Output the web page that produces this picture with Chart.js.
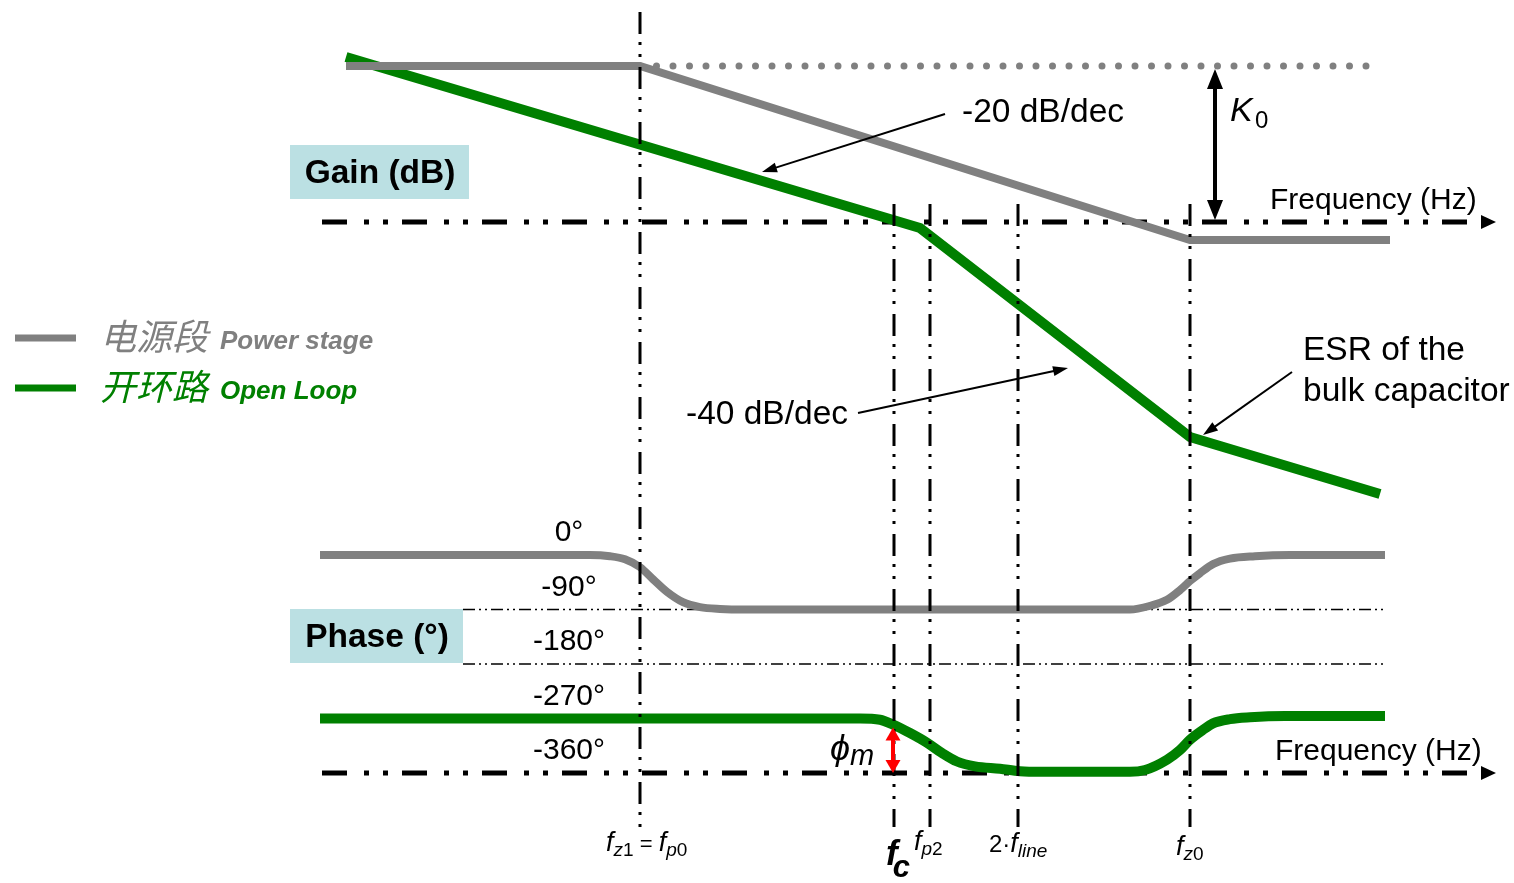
<!DOCTYPE html>
<html>
<head>
<meta charset="utf-8">
<script src="https://cdn.jsdelivr.net/npm/chart.js@4.4.1/dist/chart.umd.min.js"></script>
<style>
  html, body { margin: 0; padding: 0; background: #fff; }
  #wrap { width: 1514px; height: 883px; position: relative; }
</style>
</head>
<body>
<div id="wrap"><canvas id="bode"></canvas></div>
<script>
// ---- Data (x = position along the log-frequency direction) ----
// Gain curves, in dB relative to the 0 dB frequency axis
const powerGainX  = [346, 640, 1190, 1390];
const powerGainDb = [39, 39, -4.5, -4.5];
const loopGainX   = [346, 920, 1190, 1380];
const loopGainDb  = [41.25, -1.5, -53.75, -68];
// Dotted reference level (DC gain K0)
const k0X  = [640, 1370];
const k0Db = [39, 39];

// Phase curves, in degrees
const powerPhaseX   = [320, 590, 610, 625, 640, 653, 667, 683, 700, 720, 745, 1130, 1150, 1167, 1180, 1190, 1200, 1213, 1230, 1255, 1290, 1385];
const powerPhaseDeg = [0, 0, -2, -7, -20, -40, -61, -78, -86, -89, -90, -90, -84, -74, -58, -43, -30, -15, -6, -2, 0, 0];
const loopPhaseX    = [320, 860, 880, 893, 910, 927, 942, 957, 975, 1000, 1020, 1040, 1130, 1145, 1167, 1180, 1190, 1202, 1213, 1230, 1250, 1285, 1385];
const loopPhaseDeg  = [-270, -270, -272, -280, -294, -310, -327, -341, -349, -353, -357, -358, -358, -355, -338, -322, -305, -290, -278, -271, -268, -266, -266];

// Phase tick labels and dashed grid levels
const phaseTicks      = [0, -90, -180, -270, -360];
const phaseTickLabels = ['0°', '-90°', '-180°', '-270°', '-360°'];
const phaseGrid       = [-90, -180];

// Corner / crossover frequencies (vertical guide lines)
const markerX     = [640, 894, 930, 1018, 1190];
const markerTopDb = [52.5, 4.5, 4.5, 4.5, 4.5];
const markerBottomDeg = -449;
// Label of each marker: [text, style]
const markerLabels = [
  [['f', 'f'], ['z', 'si'], ['1', 's'], [' = ', 'eq'], ['f', 'f'], ['p', 'si'], ['0', 's']],
  [['f', 'F'], ['c', 'Fs']],
  [['f', 'f'], ['p', 'si'], ['2', 's']],
  [['2', 'n'], ['·', 'n'], ['f', 'f'], ['line', 'si']],
  [['f', 'f'], ['z', 'si'], ['0', 's']]
];

const legendItems = [
  { cn: '电源段', en: 'Power stage', color: '#808080' },
  { cn: '开环路', en: 'Open Loop',  color: '#008000' }
];

// ---- Scale calibration ----
const GAIN_AXIS_PX = 222, PX_PER_DB = 4;
const PHASE0_PX = 555, PX_PER_DEG = 218 / 360;
const W = 1514, H = 883;

const GRAY = '#808080', GREEN = '#008000';
const SANS = '"Liberation Sans", Arial, Helvetica, sans-serif';
const CJK = '"Noto Sans CJK SC", "Liberation Sans", sans-serif';

const pts = (xs, ys) => xs.map((x, i) => ({ x, y: ys[i] }));

function arrowHead(ctx, x1, y1, x2, y2, len, wid) {
  const a = Math.atan2(y2 - y1, x2 - x1);
  ctx.beginPath();
  ctx.moveTo(x2, y2);
  ctx.lineTo(x2 - len * Math.cos(a) + wid / 2 * Math.sin(a), y2 - len * Math.sin(a) - wid / 2 * Math.cos(a));
  ctx.lineTo(x2 - len * Math.cos(a) - wid / 2 * Math.sin(a), y2 - len * Math.sin(a) + wid / 2 * Math.cos(a));
  ctx.closePath();
  ctx.fill();
}

function arrow(ctx, x1, y1, x2, y2, o) {
  const a = Math.atan2(y2 - y1, x2 - x1);
  ctx.save();
  ctx.strokeStyle = o.color; ctx.fillStyle = o.color; ctx.lineWidth = o.lw;
  ctx.setLineDash([]);
  const sx = o.both ? x1 + o.len * 0.8 * Math.cos(a) : x1;
  const sy = o.both ? y1 + o.len * 0.8 * Math.sin(a) : y1;
  ctx.beginPath();
  ctx.moveTo(sx, sy);
  ctx.lineTo(x2 - o.len * 0.8 * Math.cos(a), y2 - o.len * 0.8 * Math.sin(a));
  ctx.stroke();
  arrowHead(ctx, x1, y1, x2, y2, o.len, o.wid);
  if (o.both) arrowHead(ctx, x2, y2, x1, y1, o.len, o.wid);
  ctx.restore();
}

function textRuns(ctx, x, y, parts) {
  ctx.textAlign = 'left';
  ctx.textBaseline = 'alphabetic';
  let cx = x;
  parts.forEach(p => {
    ctx.font = p.font;
    ctx.fillText(p.t, cx + (p.dx || 0), y + (p.dy || 0));
    cx += ctx.measureText(p.t).width + (p.gap || 0) + (p.dx || 0);
  });
}

const markerStyles = {
  f:  { font: 'italic 27px ' + SANS, dy: 0 },
  si: { font: 'italic 19px ' + SANS, dy: 5 },
  s:  { font: '19px ' + SANS, dy: 5 },
  eq: { font: '22px ' + SANS, dy: 0 },
  n:  { font: '24px ' + SANS, dy: 0 },
  F:  { font: 'italic bold 35px ' + SANS, dy: 0 },
  Fs: { font: 'italic bold 31px ' + SANS, dy: 12, dx: -5 }
};
const markerLabelAt = [[606, 851], [886, 865], [914, 850], [989, 852], [1176, 855]];

const bodePlugin = {
  id: 'bodeDecor',
  beforeDatasetsDraw(chart) {
    const { ctx, scales } = chart;
    const X = v => scales.x.getPixelForValue(v);
    const G = v => scales.yGain.getPixelForValue(v);
    const P = v => scales.yPhase.getPixelForValue(v);
    ctx.save();
    // label boxes
    ctx.fillStyle = '#bbe0e3';
    ctx.fillRect(290, 145, 179, 54);
    ctx.fillRect(290, 609, 173, 54);
    ctx.fillStyle = '#000';
    ctx.font = 'bold 33.5px ' + SANS;
    ctx.textAlign = 'center'; ctx.textBaseline = 'middle';
    ctx.fillText('Gain (dB)', 380, 174);
    ctx.fillText('Phase (°)', 377, 638);

    // thin phase grid
    ctx.strokeStyle = '#000'; ctx.lineWidth = 1.4;
    ctx.setLineDash([12, 4, 2, 4, 2, 4]);
    phaseGrid.forEach(d => {
      ctx.beginPath(); ctx.moveTo(463, P(d)); ctx.lineTo(X(1383), P(d)); ctx.stroke();
    });

    // frequency axes (dash-dot-dot with arrowheads)
    ctx.lineWidth = 5; ctx.lineCap = 'butt';
    [G(0), P(-360)].forEach(y => {
      ctx.setLineDash([25, 17, 5, 14, 5, 14]);
      ctx.beginPath(); ctx.moveTo(322, y); ctx.lineTo(1484, y); ctx.stroke();
      ctx.setLineDash([]);
      ctx.fillStyle = '#000';
      arrowHead(ctx, 1400, y, 1496, y, 15, 14);
    });
    ctx.restore();
  },
  afterDatasetsDraw(chart) {
    const { ctx, scales } = chart;
    const X = v => scales.x.getPixelForValue(v);
    const G = v => scales.yGain.getPixelForValue(v);
    const P = v => scales.yPhase.getPixelForValue(v);
    ctx.save();
    // vertical guide lines
    ctx.strokeStyle = '#000'; ctx.lineWidth = 3; ctx.lineCap = 'butt';
    markerX.forEach((m, i) => {
      ctx.setLineDash([22, 8, 3, 9, 3, 10]);
      ctx.beginPath(); ctx.moveTo(X(m), G(markerTopDb[i])); ctx.lineTo(X(m), P(markerBottomDeg)); ctx.stroke();
    });
    ctx.setLineDash([]);

    // K0 arrow
    arrow(ctx, X(1215), G(39) + 3, X(1215), G(0) - 2, { color: '#000', lw: 4, len: 20, wid: 16, both: true });
    // phase margin arrow
    arrow(ctx, X(893), P(-280) + 3, X(893), P(-360), { color: '#ff0000', lw: 4, len: 13, wid: 15, both: true });
    // slope annotation arrows
    arrow(ctx, X(945), G(27), X(762), G(12.5), { color: '#000', lw: 2, len: 15, wid: 10 });
    arrow(ctx, X(858), G(-47.75), X(1068), G(-36.5), { color: '#000', lw: 2, len: 15, wid: 10 });
    arrow(ctx, X(1292), G(-37.5), X(1203), G(-53.25), { color: '#000', lw: 2, len: 15, wid: 10 });

    ctx.fillStyle = '#000';
    ctx.textBaseline = 'middle'; ctx.textAlign = 'left';
    ctx.font = '33.5px ' + SANS;
    ctx.fillText('-20 dB/dec', 962, 113);
    ctx.fillText('-40 dB/dec', 686, 415);
    ctx.fillText('ESR of the', 1303, 351);
    ctx.fillText('bulk capacitor', 1303, 392);
    ctx.font = '30px ' + SANS;
    ctx.fillText('Frequency (Hz)', 1270, 201);
    ctx.fillText('Frequency (Hz)', 1275, 752);
    ctx.font = 'italic 34px ' + SANS;
    ctx.fillText('K', 1230, 112);
    ctx.font = '24px ' + SANS;
    ctx.fillText('0', 1255, 121);

    // phase tick labels
    ctx.textAlign = 'center';
    ctx.font = '30px ' + SANS;
    phaseTicks.forEach((d, i) => ctx.fillText(phaseTickLabels[i], 569, P(d) - 22));

    // phase margin symbol
    textRuns(ctx, 830, 760, [
      { t: 'ϕ', font: 'italic 36px ' + SANS },
      { t: 'm', font: 'italic 29px ' + SANS, dy: 5 }
    ]);

    // marker labels
    markerLabels.forEach((lab, i) => {
      const [lx, ly] = markerLabelAt[i];
      textRuns(ctx, lx, ly, lab.map(([t, s]) => ({ t, font: markerStyles[s].font, dy: markerStyles[s].dy, dx: markerStyles[s].dx })));
    });

    // legend
    legendItems.forEach((it, i) => {
      const y = 338 + i * 50;
      ctx.strokeStyle = it.color; ctx.lineWidth = 7;
      ctx.beginPath(); ctx.moveTo(15, y); ctx.lineTo(76, y); ctx.stroke();
      ctx.fillStyle = it.color;
      textRuns(ctx, 100, y + 12, [
        { t: it.cn, font: 'italic 36px ' + CJK, gap: 12 },
        { t: it.en, font: 'italic bold 26px ' + SANS, dy: -1 }
      ]);
    });
    ctx.restore();
  }
};

new Chart(document.getElementById('bode'), {
  type: 'line',
  data: {
    datasets: [
      { data: pts(powerGainX, powerGainDb), yAxisID: 'yGain', borderColor: GRAY, borderWidth: 8, tension: 0 },
      { data: pts(loopGainX, loopGainDb), yAxisID: 'yGain', borderColor: GREEN, borderWidth: 10, tension: 0 },
      { data: pts(k0X, k0Db), yAxisID: 'yGain', borderColor: GRAY, borderWidth: 7, borderDash: [0, 16.5], borderCapStyle: 'round' },
      { data: pts(powerPhaseX, powerPhaseDeg), yAxisID: 'yPhase', borderColor: GRAY, borderWidth: 8, cubicInterpolationMode: 'monotone' },
      { data: pts(loopPhaseX, loopPhaseDeg), yAxisID: 'yPhase', borderColor: GREEN, borderWidth: 10, cubicInterpolationMode: 'monotone' }
    ]
  },
  options: {
    responsive: true,
    maintainAspectRatio: false,
    animation: false,
    events: [],
    layout: { padding: 0 },
    elements: { point: { radius: 0 }, line: { borderCapStyle: 'butt', borderJoinStyle: 'miter', fill: false } },
    plugins: { legend: { display: false }, tooltip: { enabled: false } },
    scales: {
      x: { type: 'linear', min: 0, max: W, display: false },
      yGain: { type: 'linear', display: false, max: GAIN_AXIS_PX / PX_PER_DB, min: -(H - GAIN_AXIS_PX) / PX_PER_DB },
      yPhase: { type: 'linear', display: false, max: PHASE0_PX / PX_PER_DEG, min: -(H - PHASE0_PX) / PX_PER_DEG }
    }
  },
  plugins: [bodePlugin]
});
</script>
</body>
</html>
